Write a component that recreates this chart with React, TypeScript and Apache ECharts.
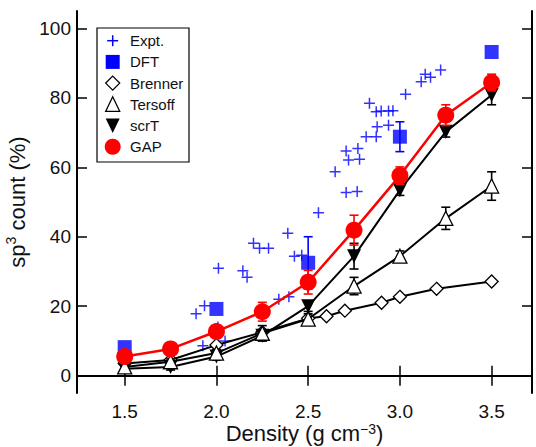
import React, { useEffect, useRef } from "react";
import * as echarts from "echarts";

const FONT = '"Liberation Sans", Arial, Helvetica, sans-serif';

// Model densities (g cm^-3)
const densities = [1.5, 1.75, 2.0, 2.25, 2.5, 2.75, 3.0, 3.25, 3.5];
const gapValues = [5.5, 7.7, 12.7, 18.4, 26.9, 41.9, 57.6, 75.0, 84.4];
const gapErrors = [0.8, 1.0, 1.5, 2.7, 3.4, 4.3, 2.5, 3.0, 2.4];
const scrTValues = [2.0, 2.5, 5.5, 11.5, 20.0, 34.4, 53.4, 70.2, 80.8];
const scrTErrors = [0.8, 0.9, 1.0, 1.5, 1.5, 3.7, 1.5, 1.5, 2.8];
const tersoffValues = [2.5, 4.0, 6.5, 12.2, 16.3, 25.8, 34.4, 45.3, 54.6];
const tersoffErrors = [0.6, 0.8, 1.0, 2.2, 1.5, 2.5, 1.5, 3.2, 4.1];

const brennerDensity = [1.5, 1.75, 2.0, 2.25, 2.5, 2.6, 2.7, 2.9, 3.0, 3.2, 3.5];
const brennerValues = [3.5, 4.5, 8.8, 12.5, 16.5, 17.1, 18.7, 21.0, 22.7, 25.0, 27.1];

const dftDensity = [1.5, 2.0, 2.5, 3.0, 3.5];
const dftValues = [8.2, 19.2, 32.5, 68.8, 93.2];
const dftErrors = [0, 0, 7.5, 4.3, 0];

const exptDensity = [
  1.889, 1.935, 1.926, 2.047, 2.008, 2.011, 2.144, 2.167, 2.202, 2.235, 2.284, 2.389, 2.425,
  2.465, 2.34, 2.395, 2.498, 2.556, 2.647, 2.707, 2.767, 2.707, 2.771, 2.72, 2.78, 2.816,
  2.871, 2.876, 2.938, 2.834, 2.871, 2.898, 2.938, 2.962, 3.031, 3.116, 3.138, 3.167, 3.222,
];
const exptValues = [
  17.8, 20.1, 8.6, 10.0, 14.0, 30.9, 30.2, 28.3, 38.1, 36.7, 36.7, 41.0, 34.4,
  34.7, 22.0, 22.7, 25.5, 46.9, 58.7, 52.7, 53.0, 64.7, 65.4, 62.1, 62.3, 68.8,
  68.8, 71.7, 72.1, 78.4, 76.0, 76.2, 76.2, 76.3, 81.0, 84.6, 86.8, 85.9, 88.0,
];

const xTicks = [1.5, 2.0, 2.5, 3.0, 3.5];
const yTicks = [0, 20, 40, 60, 80, 100];
const legendNames = ["Expt.", "DFT", "Brenner", "Tersoff", "scrT", "GAP"];

const BLUE = "#0000ff";
const RED = "#ff0000";
const BLACK = "#000000";
const PLUS = "path://M0,5L10,5M5,0L5,10";

function pairs(xs: number[], ys: number[]) {
  return xs.map((x, i) => [x, ys[i]]);
}
function errTriples(xs: number[], ys: number[], es: number[]) {
  return xs.map((x, i) => [x, ys[i], es[i]]).filter((d) => d[2] > 0);
}

function errorSeries(data: number[][], color: string, z: number) {
  return {
    type: "custom",
    xAxisIndex: 0,
    yAxisIndex: 0,
    z,
    silent: true,
    encode: { x: 0, y: 1 },
    data,
    renderItem: (params: any, api: any) => {
      const x = api.value(0);
      const y = api.value(1);
      const e = api.value(2);
      const hi = api.coord([x, y + e]);
      const lo = api.coord([x, y - e]);
      const w = 4.5;
      const st = { stroke: color, lineWidth: 1.6 };
      return {
        type: "group",
        children: [
          { type: "line", shape: { x1: hi[0], y1: hi[1], x2: lo[0], y2: lo[1] }, style: st },
          { type: "line", shape: { x1: hi[0] - w, y1: hi[1], x2: hi[0] + w, y2: hi[1] }, style: st },
          { type: "line", shape: { x1: lo[0] - w, y1: lo[1], x2: lo[0] + w, y2: lo[1] }, style: st },
        ],
      };
    },
  };
}

function legendGraphics() {
  const left = 97;
  const top = 28;
  const w = 92;
  const h = 134;
  const ix = 112.7;
  const tx = 130;
  const y0 = 40.7;
  const dy = 21.2;
  const els: any[] = [
    { type: "rect", shape: { x: left, y: top, width: w, height: h }, style: { fill: "#fff", stroke: BLACK, lineWidth: 1.2 } },
  ];
  legendNames.forEach((name, i) => {
    const cy = y0 + i * dy;
    if (i === 0) {
      els.push({ type: "line", shape: { x1: ix - 5.5, y1: cy, x2: ix + 5.5, y2: cy }, style: { stroke: BLUE, lineWidth: 1.5 } });
      els.push({ type: "line", shape: { x1: ix, y1: cy - 5.5, x2: ix, y2: cy + 5.5 }, style: { stroke: BLUE, lineWidth: 1.5 } });
    } else if (i === 1) {
      els.push({ type: "rect", shape: { x: ix - 7, y: cy - 7, width: 14, height: 14 }, style: { fill: BLUE } });
    } else if (i === 2) {
      els.push({ type: "polygon", shape: { points: [[ix, cy - 7], [ix + 7, cy], [ix, cy + 7], [ix - 7, cy]] }, style: { fill: "#fff", stroke: BLACK, lineWidth: 1.3 } });
    } else if (i === 3) {
      els.push({ type: "polygon", shape: { points: [[ix, cy - 7.5], [ix + 7, cy + 7], [ix - 7, cy + 7]] }, style: { fill: "#fff", stroke: BLACK, lineWidth: 1.3 } });
    } else if (i === 4) {
      els.push({ type: "polygon", shape: { points: [[ix - 7, cy - 7], [ix + 7, cy - 7], [ix, cy + 7.5]] }, style: { fill: BLACK } });
    } else {
      els.push({ type: "circle", shape: { cx: ix, cy, r: 8 }, style: { fill: RED } });
    }
    els.push({
      type: "text",
      x: tx,
      y: cy,
      style: { text: name, font: `15px ${FONT}`, fill: "#111", verticalAlign: "middle", align: "left" },
    });
  });
  return els;
}

export default function App() {
  const ref = useRef<HTMLDivElement>(null);

  useEffect(() => {
    if (!ref.current) return;
    const chart = echarts.init(ref.current, undefined, { renderer: "svg" });
    const axisLine = { show: true, lineStyle: { color: BLACK, width: 2 } };
    const tickCommon = { show: true, inside: true, length: 10, lineStyle: { color: BLACK, width: 1.5 } };
    const labelStyle = { color: "#111", fontSize: 19, fontFamily: FONT };

    const option: any = {
      animation: false,
      backgroundColor: "#fff",
      textStyle: { fontFamily: FONT },
      grid: { left: 77, right: 4, top: 11, bottom: 54, containLabel: false, outerBoundsMode: "none" },
      xAxis: [
        {
          type: "value",
          min: 1.24,
          max: 3.72,
          position: "bottom",
          axisLine,
          axisTick: { ...tickCommon, customValues: xTicks },
          axisLabel: { ...labelStyle, margin: 9, customValues: xTicks, formatter: (v: number) => v.toFixed(1) },
          splitLine: { show: false },
          name: "{a|Density (g cm}{s|−3}{a|)}",
          nameLocation: "middle",
          nameMoveOverlap: false,
          nameGap: 29,
          nameTextStyle: {
            color: "#111",
            fontSize: 22,
            fontFamily: FONT,
            rich: {
              a: { fontSize: 22, fontFamily: FONT, color: "#111", lineHeight: 23 },
              s: { fontSize: 14, fontFamily: FONT, color: "#111", verticalAlign: "top", lineHeight: 23 },
            },
          },
        },
        {
          type: "value",
          min: 1.24,
          max: 3.72,
          position: "top",
          axisLine,
          axisTick: { ...tickCommon, customValues: xTicks },
          axisLabel: { show: false },
          splitLine: { show: false },
        },
      ],
      yAxis: [
        {
          type: "value",
          min: -5,
          max: 105,
          position: "left",
          axisLine,
          axisTick: { ...tickCommon, customValues: yTicks },
          axisLabel: { ...labelStyle, margin: 6, customValues: yTicks },
          splitLine: { show: false },
          name: "{a|sp}{s|3}{a| count (%)}",
          nameLocation: "middle",
          nameRotate: 90,
          nameGap: 42,
          nameTextStyle: {
            color: "#111",
            fontSize: 22,
            fontFamily: FONT,
            rich: {
              a: { fontSize: 22, fontFamily: FONT, color: "#111", lineHeight: 26 },
              s: { fontSize: 14, fontFamily: FONT, color: "#111", verticalAlign: "top", lineHeight: 26 },
            },
          },
        },
        {
          type: "value",
          min: -5,
          max: 105,
          position: "right",
          axisLine,
          axisTick: { ...tickCommon, customValues: yTicks },
          axisLabel: { show: false },
          splitLine: { show: false },
        },
      ],
      series: [
        {
          name: "Expt.",
          type: "scatter",
          xAxisIndex: 0,
          yAxisIndex: 0,
          z: 2,
          symbol: PLUS,
          symbolSize: 11,
          itemStyle: { color: "none", borderColor: BLUE, borderWidth: 1.5 },
          data: pairs(exptDensity, exptValues),
        },
        errorSeries(errTriples(dftDensity, dftValues, dftErrors), BLUE, 3),
        {
          name: "DFT",
          type: "scatter",
          xAxisIndex: 0,
          yAxisIndex: 0,
          z: 3,
          symbol: "rect",
          symbolSize: 14,
          itemStyle: { color: BLUE },
          data: pairs(dftDensity, dftValues),
        },
        {
          name: "Brenner",
          type: "line",
          xAxisIndex: 0,
          yAxisIndex: 0,
          z: 4,
          symbol: "diamond",
          symbolSize: 13,
          showAllSymbol: true,
          lineStyle: { color: BLACK, width: 2 },
          itemStyle: { color: "#fff", borderColor: BLACK, borderWidth: 1.3 },
          data: pairs(brennerDensity, brennerValues),
        },
        errorSeries(errTriples(densities, scrTValues, scrTErrors), BLACK, 5),
        {
          name: "scrT",
          type: "line",
          xAxisIndex: 0,
          yAxisIndex: 0,
          z: 5,
          symbol: "triangle",
          symbolRotate: 180,
          symbolSize: [14, 14],
          showAllSymbol: true,
          lineStyle: { color: BLACK, width: 2 },
          itemStyle: { color: BLACK, borderColor: BLACK, borderWidth: 0 },
          data: pairs(densities, scrTValues),
        },
        errorSeries(errTriples(densities, tersoffValues, tersoffErrors), BLACK, 6),
        {
          name: "Tersoff",
          type: "line",
          xAxisIndex: 0,
          yAxisIndex: 0,
          z: 6,
          symbol: "triangle",
          symbolSize: [14, 14],
          showAllSymbol: true,
          lineStyle: { color: BLACK, width: 2 },
          itemStyle: { color: "#fff", borderColor: BLACK, borderWidth: 1.3 },
          data: pairs(densities, tersoffValues),
        },
        errorSeries(errTriples(densities, gapValues, gapErrors), RED, 7),
        {
          name: "GAP",
          type: "line",
          xAxisIndex: 0,
          yAxisIndex: 0,
          z: 7,
          symbol: "circle",
          symbolSize: 17,
          showAllSymbol: true,
          lineStyle: { color: RED, width: 2.5 },
          itemStyle: { color: RED, borderWidth: 0 },
          data: pairs(densities, gapValues),
        },
      ],
      graphic: { elements: legendGraphics() },
    };

    chart.setOption(option);
    return () => chart.dispose();
  }, []);

  return (
    <div
      ref={ref}
      style={{ position: "absolute", left: 0, top: 0, width: 536, height: 447, background: "#fff" }}
    />
  );
}
